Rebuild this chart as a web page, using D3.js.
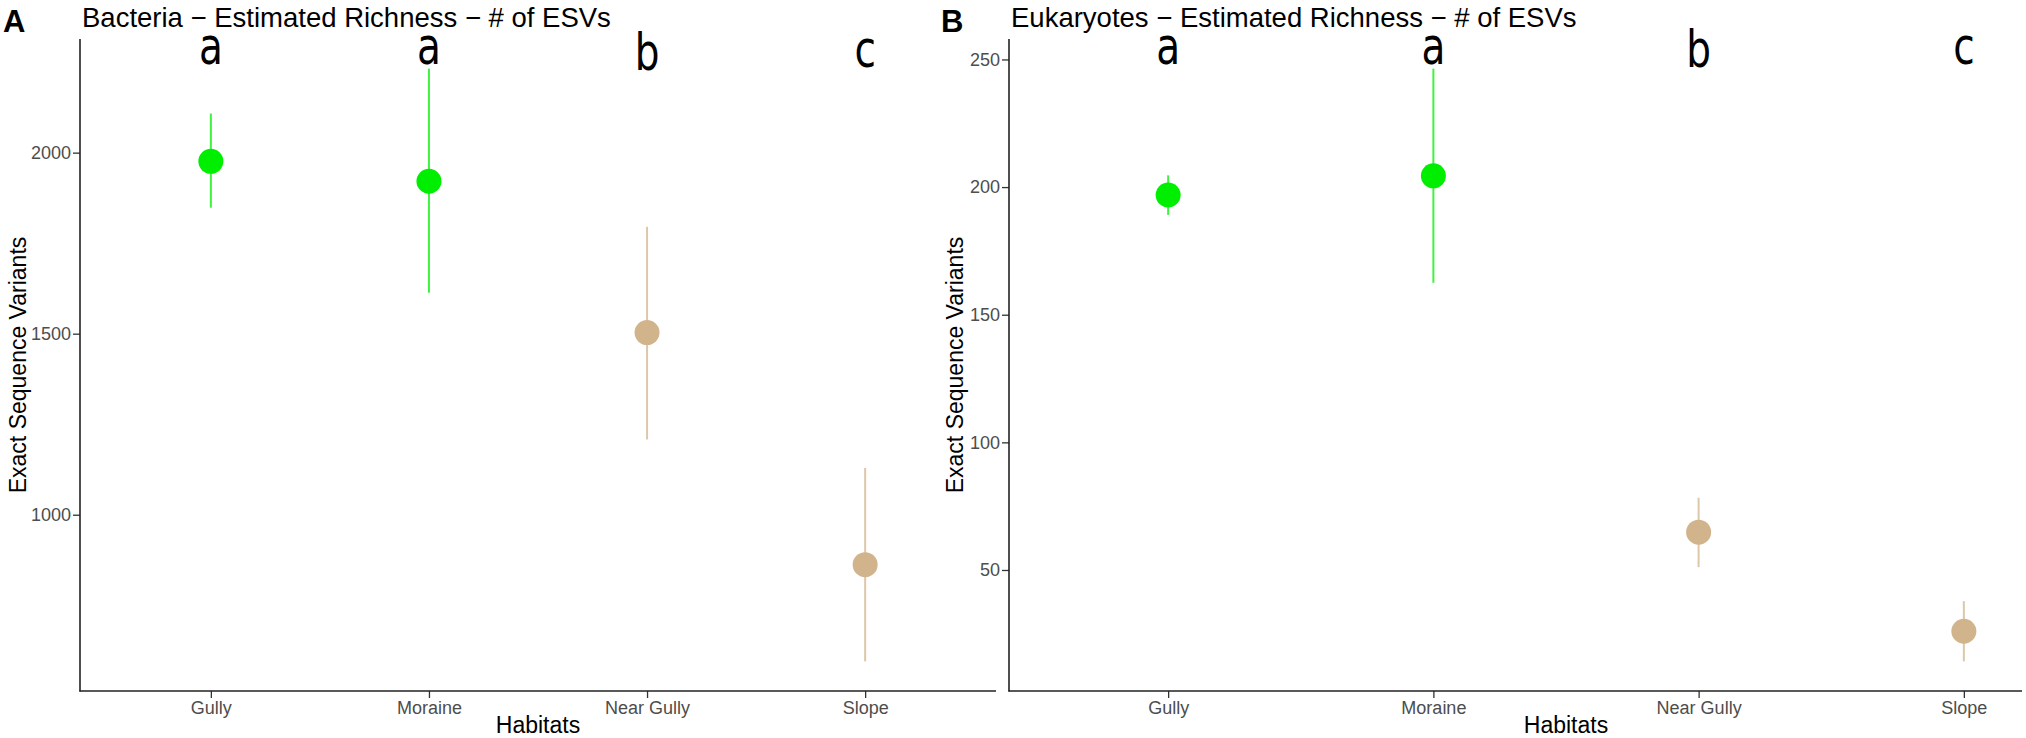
<!DOCTYPE html>
<html>
<head>
<meta charset="utf-8">
<script src="https://cdn.jsdelivr.net/npm/d3@7"></script>
<style>
    body { margin: 0; background: #fff; }
    svg { display: block; font-family: "Liberation Sans", Arial, sans-serif; }
</style>
</head>
<body>
<svg id="chart"></svg>
<script>
// Data
const habitats = ["Gully", "Moraine", "Near Gully", "Slope"];
const groupColor = ["green", "green", "tan", "tan"];

const bactMean = [1976, 1921, 1503, 862];
const bactLow = [1848, 1613, 1208, 595];
const bactHigh = [2108, 2232, 1795, 1129];
const bactLetters = ["a", "a", "b", "c"];
const bactLetterY = [2246, 2246, 2228, 2236];
const bactTicks = [1000, 1500, 2000];

const eukMean = [196.9, 204.4, 64.8, 26.0];
const eukLow = [189.1, 162.5, 51.1, 14.2];
const eukHigh = [204.6, 246.4, 78.3, 37.8];
const eukLetters = ["a", "a", "b", "c"];
const eukLetterY = [248.4, 248.4, 247.0, 248.4];
const eukTicks = [50, 100, 150, 200, 250];

const svgWidth = 2026;
const svgHeight = 738;
const colors = { green: "#00EE00", tan: "#D2B48C" };

const svg = d3.select("#chart").attr("width", svgWidth).attr("height", svgHeight);

// Helper: one ggplot-like panel with points, error bars and group letters
function createPanel(opts) {
    const { left, plotWidth, lineEnd, top, bottom, mean, low, high, letters, letterY, ticks, title, tag, tagX, yTitleX } = opts;

    const rows = habitats.map((h, i) => ({
        habitat: h, mean: mean[i], low: low[i], high: high[i],
        letter: letters[i], letterY: letterY[i], color: colors[groupColor[i]]
    }));

    const x = d3.scalePoint().domain(habitats).range([left, left + plotWidth]).padding(0.6);

    // continuous scale expanded by 5% like ggplot
    const yMin = d3.min(rows, d => d.low);
    const yMax = d3.max(rows, d => d.high);
    const pad = (yMax - yMin) * 0.05;
    const y = d3.scaleLinear().domain([yMin - pad, yMax + pad]).range([bottom, top]);

    const g = svg.append("g");

    // y axis
    const yAxis = g.append("g")
        .attr("transform", `translate(${left},0)`)
        .call(d3.axisLeft(y).tickValues(ticks).tickFormat(d3.format("d")).tickSize(7).tickPadding(2).tickSizeOuter(0));
    yAxis.select(".domain").remove();
    yAxis.selectAll(".tick line").attr("stroke", "#333").attr("stroke-width", 1.3);
    yAxis.selectAll(".tick text").attr("fill", "#4D4D4D").style("font-size", "18px")
        .style("font-family", "Liberation Sans, Arial, sans-serif");

    // x axis
    const xAxis = g.append("g")
        .attr("transform", `translate(0,${bottom})`)
        .call(d3.axisBottom(x).tickSize(7).tickPadding(3));
    xAxis.select(".domain").remove();
    xAxis.selectAll(".tick line").attr("stroke", "#333").attr("stroke-width", 1.3);
    xAxis.selectAll(".tick text").attr("fill", "#4D4D4D").style("font-size", "18px")
        .style("font-family", "Liberation Sans, Arial, sans-serif");

    // axis lines
    g.append("line")
        .attr("x1", left).attr("x2", left).attr("y1", top).attr("y2", bottom + 0.6)
        .attr("stroke", "#222").attr("stroke-width", 1.6);
    g.append("line")
        .attr("x1", left - 0.6).attr("x2", lineEnd).attr("y1", bottom).attr("y2", bottom)
        .attr("stroke", "#222").attr("stroke-width", 1.6);

    // error bars
    g.selectAll(".err")
        .data(rows)
        .enter().append("line")
        .attr("class", "err")
        .attr("x1", d => x(d.habitat)).attr("x2", d => x(d.habitat))
        .attr("y1", d => y(d.low)).attr("y2", d => y(d.high))
        .attr("stroke", d => d.color)
        .attr("stroke-width", 2)
        .attr("stroke-opacity", 0.75);

    // points
    g.selectAll(".pt")
        .data(rows)
        .enter().append("circle")
        .attr("class", "pt")
        .attr("cx", d => x(d.habitat))
        .attr("cy", d => y(d.mean))
        .attr("r", 12.5)
        .attr("fill", d => d.color);

    // significance letters (narrow face, squeezed horizontally)
    g.selectAll(".letter")
        .data(rows)
        .enter().append("text")
        .attr("class", "letter")
        .attr("transform", d => `translate(${x(d.habitat)},${y(d.letterY)}) scale(0.85,1)`)
        .attr("text-anchor", "middle")
        .style("font-family", "DejaVu Sans Condensed, DejaVu Sans, sans-serif")
        .style("font-size", "51px")
        .attr("fill", "#000")
        .text(d => d.letter);

    // titles
    svg.append("text")
        .attr("x", left + 2)
        .attr("y", 27)
        .style("font-size", "27.5px")
        .attr("fill", "#000")
        .text(title);

    svg.append("text")
        .attr("x", tagX)
        .attr("y", 31.7)
        .style("font-size", "31px")
        .style("font-weight", "bold")
        .attr("fill", "#000")
        .text(tag);

    svg.append("text")
        .attr("transform", `translate(${yTitleX},${(top + bottom) / 2}) rotate(-90)`)
        .attr("text-anchor", "middle")
        .style("font-size", "23px")
        .attr("fill", "#000")
        .text("Exact Sequence Variants");

    svg.append("text")
        .attr("x", left + plotWidth / 2)
        .attr("y", 733)
        .attr("text-anchor", "middle")
        .style("font-size", "23px")
        .attr("fill", "#000")
        .text("Habitats");
}

createPanel({
    left: 80, plotWidth: 916, lineEnd: 996, top: 39, bottom: 691,
    mean: bactMean, low: bactLow, high: bactHigh,
    letters: bactLetters, letterY: bactLetterY, ticks: bactTicks,
    title: "Bacteria \u2212 Estimated Richness \u2212 # of ESVs",
    tag: "A", tagX: 3, yTitleX: 25.5
});

createPanel({
    left: 1009, plotWidth: 1114, lineEnd: 2022, top: 39, bottom: 691,
    mean: eukMean, low: eukLow, high: eukHigh,
    letters: eukLetters, letterY: eukLetterY, ticks: eukTicks,
    title: "Eukaryotes \u2212 Estimated Richness \u2212 # of ESVs",
    tag: "B", tagX: 941, yTitleX: 963
});
</script>
</body>
</html>
